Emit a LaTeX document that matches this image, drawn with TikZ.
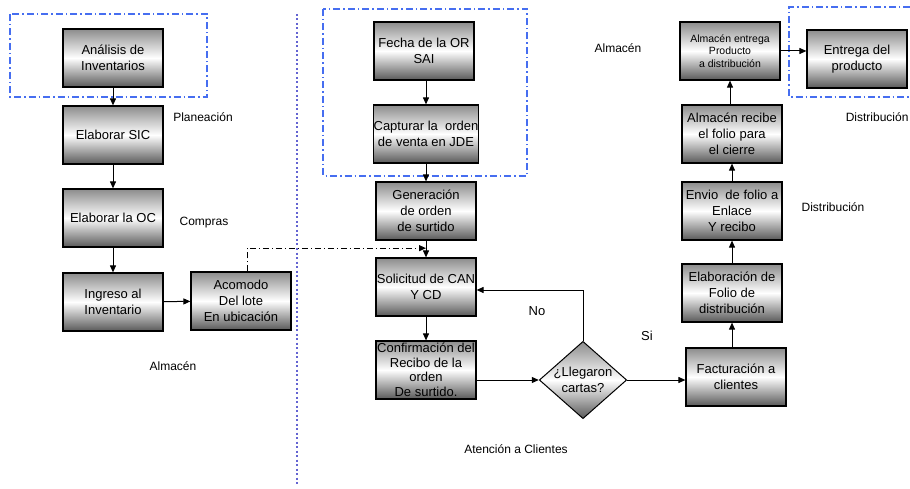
\documentclass[tikz,border=0pt]{standalone}
\usepackage{fontspec}
\setmainfont{Liberation Sans}
\usetikzlibrary{arrows.meta,shapes.geometric,calc}

\definecolor{areablue}{RGB}{70,110,240}
\definecolor{lanevio}{RGB}{100,100,210}

\tikzset{
every picture/.style={
line width=1pt
},
shade3/.style={top color=black!45, bottom color=black!65, middle color=white},
proc/.style={draw, line width=1.2pt, shade3, minimum width=100pt, minimum height=58pt, inner sep=0pt, align=center, font=\fontsize{13}{16}\selectfont},
decide/.style={diamond, draw, line width=1pt, shade3, minimum width=86pt, minimum height=76pt, inner sep=0pt, align=center, font=\fontsize{13}{16}\selectfont, aspect=1.13},
area/.style={draw=areablue, line width=1.1pt, dash pattern=on 7pt off 3pt on 1.5pt off 3pt},
zone/.style={font=\fontsize{12}{14}\selectfont},
flow/.style={-{Triangle[length=7pt,width=6pt]}}
}

\begin{document}
\begin{tikzpicture}[x=1pt,y=-1pt]
\useasboundingbox (0,0) rectangle (910,489);

% areas
\draw[area] (10,14) rectangle (207,97);
\draw[area] (323,9) rectangle (527,176);
\draw[area] (910,7) -- (789,7) -- (789,97) -- (910,97);
\draw[draw=lanevio, line width=1.2pt, dash pattern=on 2pt off 2.5pt] (297,14) -- (297,485);

% boxes
\node[proc] (ana) at (113,58) {Análisis de\\Inventarios};
\node[proc] (sic) at (113,135) {Elaborar SIC};
\node[proc] (oc) at (113,218) {Elaborar la OC};
\node[proc] (ing) at (113,302) {Ingreso al\\Inventario};
\node[proc] (aco) at (241,301) {Acomodo\\Del lote\\En ubicación};

\node[proc] (fec) at (424,51) {Fecha de la OR\\SAI};
\node[proc] (cap) at (426,134) {Capturar la\ \ orden\\de venta en JDE};
\node[proc] (gen) at (426,211) {Generación\\de orden\\de surtido};
\node[proc] (sol) at (426,287) {Solicitud de CAN\\Y CD};
\node[proc, font=\fontsize{13}{14.5}\selectfont] (con) at (426,370) {Confirmación del\\Recibo de la\\orden\\De surtido.};
\node[decide] (dia) at (583,380) {¿Llegaron\\cartas?};

\node[proc] (fac) at (736,377) {Facturación a\\clientes};
\node[proc] (ela) at (732,293) {Elaboración de\\Folio de\\distribución};
\node[proc] (env) at (732,211) {Envio\ \ de folio a\\Enlace\\Y recibo};
\node[proc] (rec) at (732,134) {Almacén recibe\\el folio para\\el cierre};
\node[proc, font=\fontsize{10.5}{12.3}\selectfont] (ent) at (730,51) {Almacén entrega\\Producto\\a distribución};
\node[proc] (pro) at (857,59) {Entrega del\\producto};

% labels
\node[zone] (planea) at (203,117) {Planeación};
\node[zone] (compras) at (204,223) {Compras};
\node[zone] (alm1) at (173,366) {Almacén};
\node[zone] (alm2) at (618,48) {Almacén};
\node[zone, anchor=east, inner xsep=1pt] (dist1) at (910,117) {Distribución};
\node[zone] (dist2) at (833,207) {Distribución};
\node[zone] (atc) at (516,449) {Atención a Clientes};
\node[zone, font=\fontsize{13}{15}\selectfont] (no) at (537,311) {No};
\node[zone, font=\fontsize{13}{15}\selectfont] (si) at (647,336) {Si};

% connectors
\foreach \a/\b in {ana/sic, sic/oc, oc/ing, fec/cap, cap/gen, gen/sol, sol/con}{
  \draw[flow] (\a.south -| \b) -- (\b.north);
}
\foreach \a/\b in {fac/ela, ela/env, env/rec, rec/ent}{
  \draw[flow] (\a.north -| \b) -- (\b.south);
}
\draw[flow] (ing) -- (aco);
\coordinate (join) at ($(gen.south)!0.45!(sol.north)$);
\draw[flow, dash pattern=on 6pt off 3pt on 1pt off 3pt] ([xshift=6pt]aco.north) |- (join);
\draw[flow] (con.east |- dia.west) -- (dia.west);
\draw[flow] (dia.north) |- ([yshift=-3pt]sol.east);
\draw[flow] (dia.east) -- (dia.east -| fac.west);
\draw[flow] (ent.east) -- (ent.east -| pro.west);
\end{tikzpicture}
\end{document}
